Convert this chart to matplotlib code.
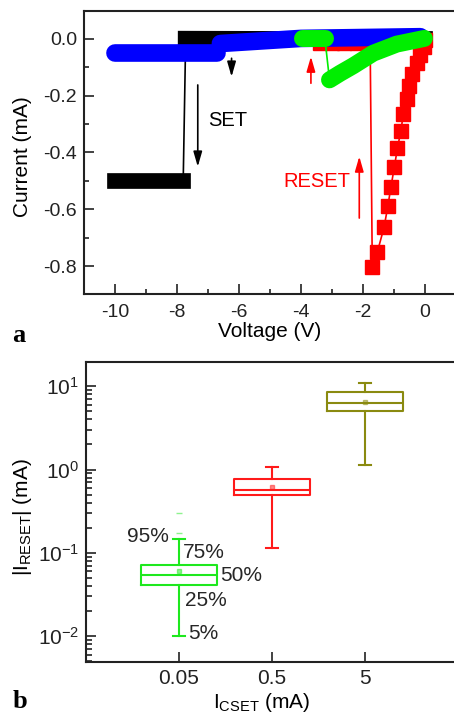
import matplotlib
matplotlib.use('Agg')
import matplotlib.pyplot as plt
from matplotlib.ticker import MultipleLocator, FormatStrFormatter, LogLocator, NullFormatter

plt.rcParams['font.family'] = ['Liberation Sans', 'DejaVu Sans']
plt.rcParams['axes.unicode_minus'] = False
plt.rcParams['mathtext.fontset'] = 'custom'
plt.rcParams['mathtext.rm'] = 'Liberation Sans'
plt.rcParams['mathtext.it'] = 'Liberation Sans:italic'
plt.rcParams['mathtext.bf'] = 'Liberation Sans:bold'

# ---- panel a: I-V sweeps (V, mA) ----
black_v = [0.0, -4.0, -7.72, -7.8, -10.0]
black_i = [0.0, 0.0, 0.001, -0.5, -0.5]

blue_v = [-0.15, -4.0, -6.6, -6.7, -10.0]
blue_i = [0.008, 0.002, -0.016, -0.049, -0.049]

green_v = [-0.02, -0.91, -1.67, -2.31, -2.74, -3.08, -3.23, -3.98]
green_i = [0.002, -0.018, -0.05, -0.094, -0.121, -0.144, 0.002, 0.002]

red_v = [0.0, -0.03, -0.16, -0.27, -0.41, -0.51, -0.59, -0.70, -0.78, -0.89,
         -0.99, -1.10, -1.20, -1.32, -1.54, -1.70,
         -1.77, -2.2, -2.6, -3.0, -3.4]
red_i = [-0.005, -0.029, -0.056, -0.086, -0.124, -0.164, -0.211, -0.265, -0.325, -0.385,
         -0.452, -0.522, -0.590, -0.663, -0.752, -0.804,
         -0.013, -0.013, -0.013, -0.013, -0.013]

# ---- panel b: |I_RESET| statistics per compliance current (mA) ----
cset_labels = ['0.05', '0.5', '5']
box_colors = ['#1ee81e', '#ff1a1a', '#8a8a10']
p5 = [0.010, 0.113, 1.12]
q1 = [0.041, 0.50, 5.0]
med = [0.054, 0.575, 6.3]
q3 = [0.071, 0.78, 8.55]
p95 = [0.146, 1.06, 10.95]
mean = [0.061, 0.61, 6.4]
extremes = [[0.171, 0.30], [], []]


def band(ax, v, i, segs, color, lw, cap, z):
    # thick band made of overlapping symbols, thin line joins the jumps
    ax.plot(v, i, color=color, lw=1.2, zorder=z)
    for a, b in segs:
        ax.plot(v[a:b], i[a:b], color=color, lw=lw, solid_capstyle=cap,
                solid_joinstyle='round', zorder=z)


def style(ax, minor_len=3.5):
    for s in ax.spines.values():
        s.set_linewidth(1.5)
        s.set_color('#222222')
    ax.tick_params(which='both', direction='in', top=False, right=False,
                   width=1.2, colors='#222222')
    ax.tick_params(which='major', length=7.5)
    ax.tick_params(which='minor', length=minor_len)


fig = plt.figure(figsize=(4.54, 7.2), dpi=100)

ax1 = fig.add_axes([84 / 454, 1 - 294.4 / 720, 372 / 454, 283.8 / 720])
band(ax1, black_v, black_i, [(0, 3), (3, 5)], 'black', 11.3, 'projecting', 2)
ax1.plot(red_v, red_i, color='#ff0000', lw=1.2, marker='s', ms=10.5,
         mec='#ff0000', mfc='#ff0000', zorder=3)
band(ax1, blue_v, blue_i, [(0, 3), (3, 5)], '#0000ff', 12.7, 'round', 4)
band(ax1, green_v, green_i, [(0, 6), (6, 8)], '#00ee00', 12.2, 'round', 5)

arrow = dict(arrowstyle='-|>,head_length=0.45,head_width=0.13', lw=1.2,
             shrinkA=0, shrinkB=0, mutation_scale=20)
for (x0, y0, x1, y1, c) in [(-6.24, -0.068, -6.24, -0.133, 'black'),
                            (-7.33, -0.162, -7.33, -0.45, 'black'),
                            (-3.68, -0.156, -3.68, -0.062, '#ff0000'),
                            (-2.12, -0.631, -2.12, -0.414, '#ff0000')]:
    ax1.annotate('', xy=(x1, y1), xytext=(x0, y0),
                 arrowprops=dict(arrow, color=c), zorder=6)
ax1.text(-6.99, -0.288, 'SET', fontsize=14.5, ha='left', va='center', color='black')
ax1.text(-4.57, -0.502, 'RESET', fontsize=14.5, ha='left', va='center', color='#ff0000')

ax1.set_xlim(-11, 1)
ax1.set_ylim(-0.9, 0.1)
ax1.xaxis.set_major_locator(MultipleLocator(2))
ax1.xaxis.set_minor_locator(MultipleLocator(1))
ax1.yaxis.set_major_locator(MultipleLocator(0.2))
ax1.yaxis.set_minor_locator(MultipleLocator(0.1))
ax1.yaxis.set_major_formatter(FormatStrFormatter('%.1f'))
style(ax1)
ax1.tick_params(axis='x', labelsize=14, pad=7)
ax1.tick_params(axis='y', labelsize=14, pad=5)
ax1.set_xlabel('Voltage (V)', fontsize=15)
ax1.set_ylabel('Current (mA)', fontsize=15)
ax1.xaxis.set_label_coords(0.5, -0.097)
ax1.yaxis.set_label_coords(-0.14, 0.484)

ax2 = fig.add_axes([86 / 454, 1 - 662 / 720, 372 / 454, 300 / 720])
for k in range(len(cset_labels)):
    st = dict(whislo=p5[k], q1=q1[k], med=med[k], q3=q3[k], whishi=p95[k],
              mean=mean[k], fliers=extremes[k])
    c = box_colors[k]
    ax2.bxp([st], positions=[k + 1], widths=0.82, capwidths=0.12,
            showmeans=True, manage_ticks=False,
            boxprops=dict(color=c, lw=1.5),
            whiskerprops=dict(color=c, lw=1.5),
            capprops=dict(color=c, lw=1.5),
            medianprops=dict(color=c, lw=1.5),
            meanprops=dict(marker='s', ms=2.5, mfc=c, mec=c, alpha=0.5),
            flierprops=dict(marker='_', ms=4, mec=c, alpha=0.5))

for txt, x, y, ha in [('95%', 0.89, 0.156, 'right'), ('75%', 1.04, 0.1, 'left'),
                      ('50%', 1.44, 0.054, 'left'), ('25%', 1.065, 0.0266, 'left'),
                      ('5%', 1.10, 0.0108, 'left')]:
    ax2.text(x, y, txt, fontsize=15, ha=ha, va='center', color='#262626')

ax2.set_yscale('log')
ax2.set_ylim(0.0049, 19.5)
ax2.yaxis.set_major_locator(LogLocator(base=10, numticks=10))
ax2.yaxis.set_minor_locator(LogLocator(base=10, subs=[2, 3, 4, 5, 6, 7, 8, 9], numticks=40))
ax2.yaxis.set_minor_formatter(NullFormatter())
ax2.set_xlim(0, 4)
ax2.set_xticks([1, 2, 3])
ax2.set_xticklabels(cset_labels)
style(ax2, minor_len=4.3)
ax2.tick_params(axis='x', labelsize=15, pad=5)
ax2.tick_params(axis='y', labelsize=15, pad=5)
ax2.set_xlabel(r'$\mathregular{I_{CSET}}$ (mA)', fontsize=15)
ax2.set_ylabel(r'$\mathregular{|I_{RESET}|}$ (mA)', fontsize=15)
ax2.xaxis.set_label_coords(0.473, -0.098)
ax2.yaxis.set_label_coords(-0.14, 0.483)

fig.text(12 / 454, 1 - 342 / 720, 'a', fontsize=19, fontweight='bold',
         family='Liberation Serif', va='baseline')
fig.text(13 / 454, 1 - 708 / 720, 'b', fontsize=19, fontweight='bold',
         family='Liberation Serif', va='baseline')

fig.savefig('out.png', dpi=100)
